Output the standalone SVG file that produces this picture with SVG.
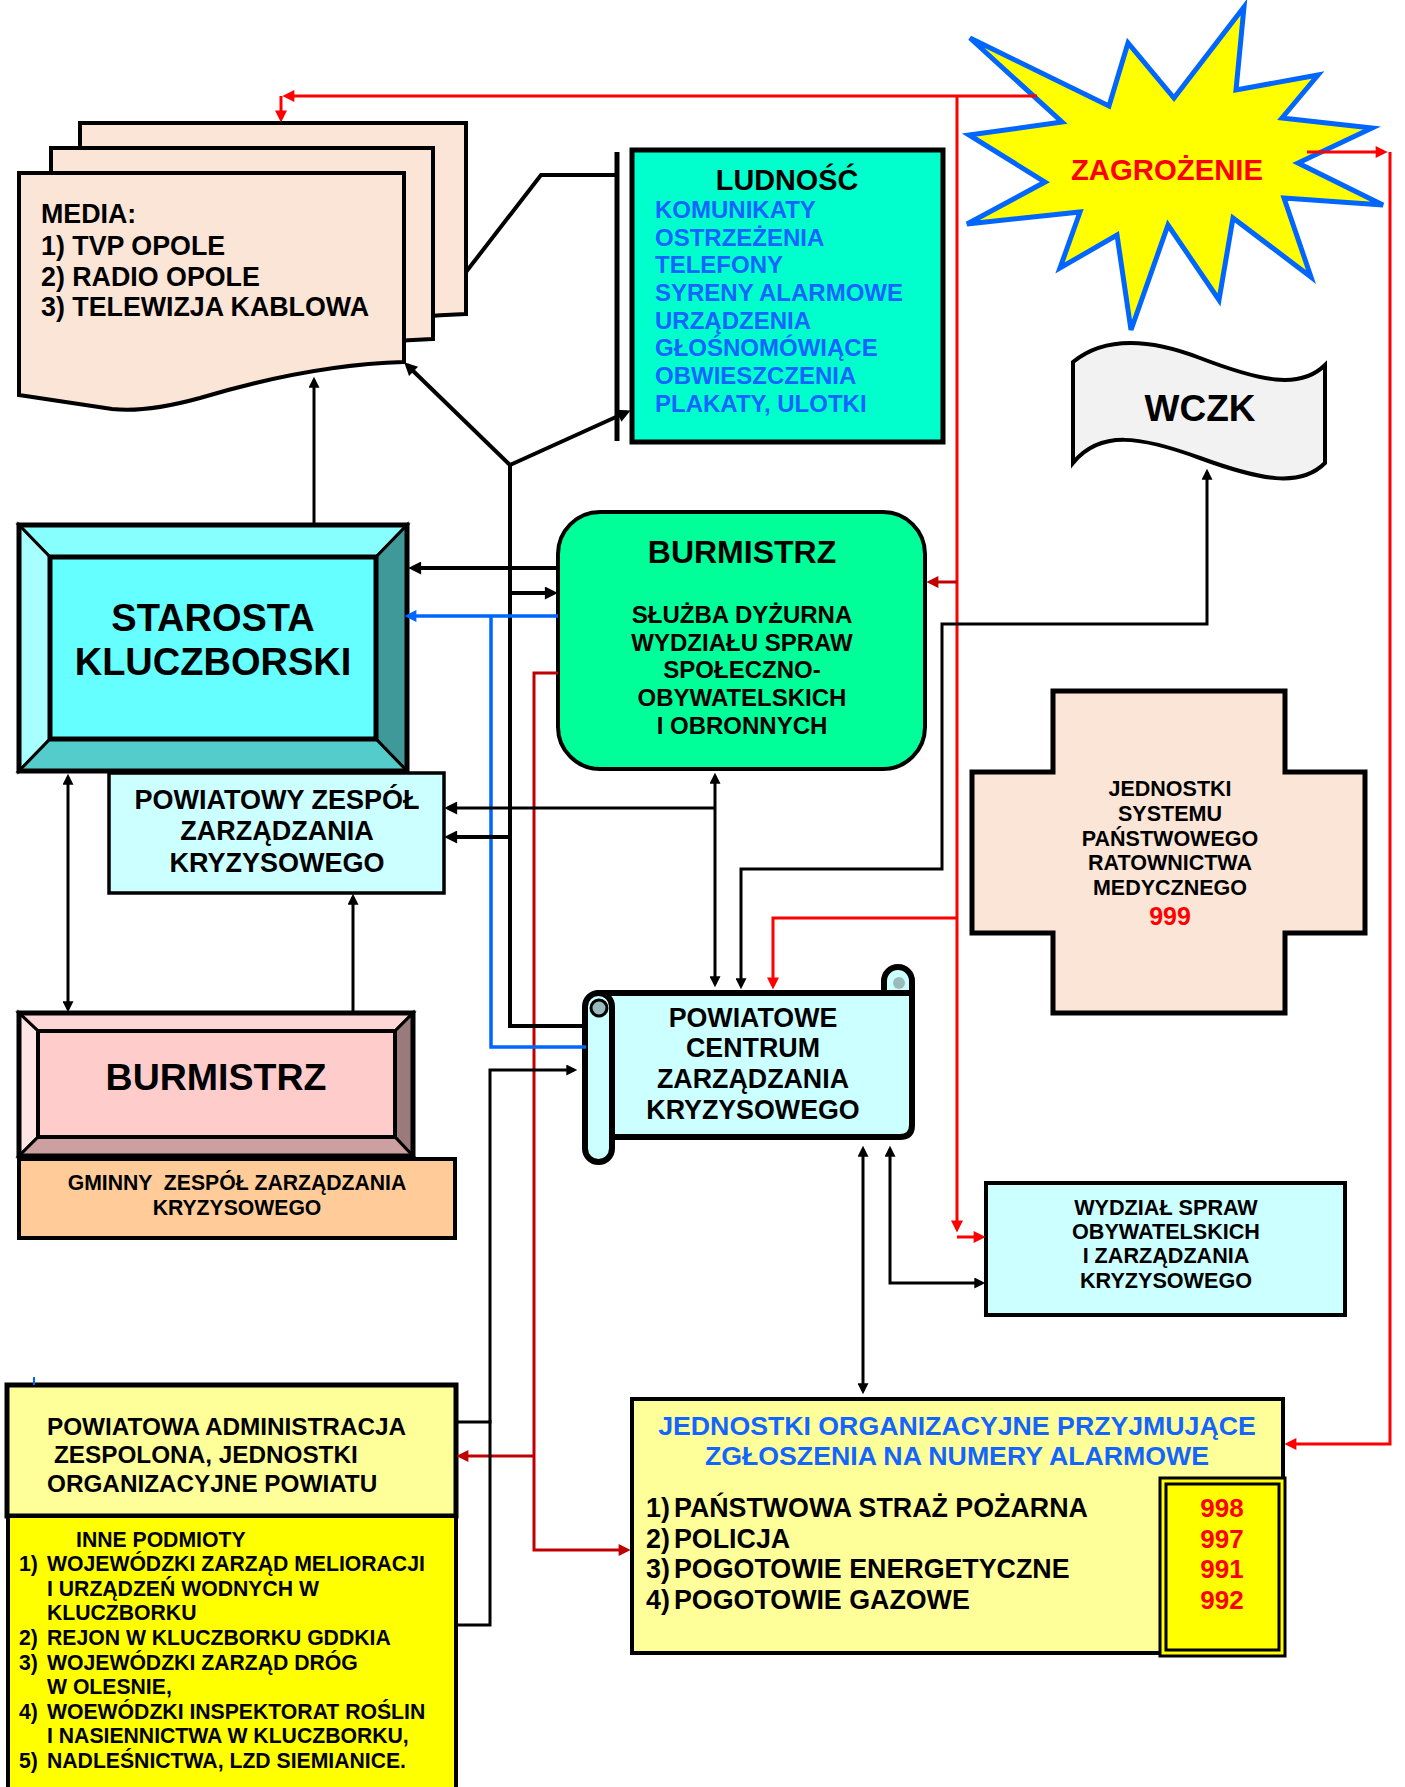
<svg xmlns="http://www.w3.org/2000/svg" width="1405" height="1787" viewBox="0 0 1405 1787">
<style>
text{font-family:"Liberation Sans",Arial,sans-serif;font-weight:bold;fill:#000}
.c{text-anchor:middle}
.blue{fill:#1464FF}
.red{fill:#FF0000}
.ln{fill:none;stroke:#000;stroke-width:3}
.lt{fill:none;stroke:#000;stroke-width:4}
.rd{fill:none;stroke:#FF0000;stroke-width:3}
.dr{fill:none;stroke:#C00000;stroke-width:3}
.bl{fill:none;stroke:#0066FF;stroke-width:3.5}
</style>
<defs>
<marker id="ab" viewBox="0 0 10 10" refX="7" refY="5" markerWidth="15" markerHeight="13" markerUnits="userSpaceOnUse" orient="auto-start-reverse"><path d="M0,0L10,5L0,10z" fill="#000"/></marker>
<marker id="as" viewBox="0 0 10 10" refX="7" refY="5" markerWidth="13" markerHeight="11" markerUnits="userSpaceOnUse" orient="auto-start-reverse"><path d="M0,0L10,5L0,10z" fill="#000"/></marker>
<marker id="ar" viewBox="0 0 10 10" refX="7" refY="5" markerWidth="14" markerHeight="12" markerUnits="userSpaceOnUse" orient="auto-start-reverse"><path d="M0,0L10,5L0,10z" fill="#FF0000"/></marker>
<marker id="ad" viewBox="0 0 10 10" refX="7" refY="5" markerWidth="14" markerHeight="12" markerUnits="userSpaceOnUse" orient="auto-start-reverse"><path d="M0,0L10,5L0,10z" fill="#C00000"/></marker>
<marker id="abl" viewBox="0 0 10 10" refX="7" refY="5" markerWidth="14" markerHeight="12" markerUnits="userSpaceOnUse" orient="auto-start-reverse"><path d="M0,0L10,5L0,10z" fill="#0066FF"/></marker>
</defs>
<rect width="1405" height="1787" fill="#FFFFFF"/>

<g id="media">
<path d="M80,123H466V314C390,316 330,330 270,345C230,354 200,356 180,355L80,342Z" fill="#FBE5D6" stroke="#000" stroke-width="4"/>
<path d="M51,148H433V339C360,341 300,355 240,370C200,379 170,381 150,380L51,367Z" fill="#FBE5D6" stroke="#000" stroke-width="4"/>
<path d="M19,173H404V362C330,364 260,380 200,398C160,409 130,411 112,409L19,395Z" fill="#FBE5D6" stroke="#000" stroke-width="4"/>
<text x="41" y="223" font-size="26.8">MEDIA:</text>
<text x="41" y="255" font-size="26.8">1) TVP OPOLE</text>
<text x="41" y="286" font-size="26.8">2) RADIO OPOLE</text>
<text x="41" y="316" font-size="26.8">3) TELEWIZJA KABLOWA</text>
</g>

<g id="ludnosc">
<rect x="632" y="150" width="311" height="292" fill="#00FFCC" stroke="#000" stroke-width="5"/>
<text x="787" y="190" font-size="28.8" class="c">LUDNOŚĆ</text>
<text x="655" y="218" font-size="24" class="blue">KOMUNIKATY</text>
<text x="655" y="246" font-size="24" class="blue">OSTRZEŻENIA</text>
<text x="655" y="273" font-size="24" class="blue">TELEFONY</text>
<text x="655" y="301" font-size="24" class="blue">SYRENY ALARMOWE</text>
<text x="655" y="329" font-size="24" class="blue">URZĄDZENIA</text>
<text x="655" y="356" font-size="24" class="blue">GŁOŚNOMÓWIĄCE</text>
<text x="655" y="384" font-size="24" class="blue">OBWIESZCZENIA</text>
<text x="655" y="412" font-size="24" class="blue">PLAKATY, ULOTKI</text>
</g>

<g id="zagrozenie">
<polygon points="970,38 1109,106 1128,43 1174,98 1244,7 1236,90 1318,75 1282,118 1372,128 1298,163 1383,205 1284,198 1311,277 1233,218 1219,300 1168,225 1131,330 1117,235 1060,268 1080,212 967,224 1045,182 969,135 1062,122" fill="#FFFF00" stroke="#0066FF" stroke-width="5" stroke-linejoin="miter"/>
<text x="1167" y="180" font-size="29.3" class="c red">ZAGROŻENIE</text>
</g>

<g id="wczk">
<path d="M1073,362C1100,340 1140,335 1200,358S1300,390 1325,365V463C1300,488 1260,480 1200,458S1100,430 1073,463Z" fill="#F2F2F2" stroke="#000" stroke-width="4"/>
<text x="1200" y="421" font-size="37" class="c">WCZK</text>
</g>

<g id="starosta">
<rect x="19" y="525" width="388" height="246" fill="#66FFFF"/>
<polygon points="19,525 407,525 376,557 50,557" fill="#88FFFF" stroke="#000" stroke-width="3"/>
<polygon points="19,525 50,557 50,739 19,771" fill="#A8FFFF" stroke="#000" stroke-width="3"/>
<polygon points="407,525 407,771 376,739 376,557" fill="#409999" stroke="#000" stroke-width="3"/>
<polygon points="19,771 50,739 376,739 407,771" fill="#55CCCC" stroke="#000" stroke-width="3"/>
<rect x="50" y="557" width="326" height="182" fill="#66FFFF" stroke="#000" stroke-width="5"/>
<rect x="19" y="525" width="388" height="246" fill="none" stroke="#000" stroke-width="5"/>
<text x="213" y="631" font-size="38" class="c">STAROSTA</text>
<text x="213" y="675" font-size="38" class="c">KLUCZBORSKI</text>
</g>

<g id="burmistrz-sluzba">
<rect x="558" y="512" width="367" height="257" rx="42" ry="42" fill="#00FF99" stroke="#000" stroke-width="4"/>
<text x="742" y="563" font-size="32" class="c">BURMISTRZ</text>
<text x="742" y="623" font-size="24" class="c">SŁUŻBA DYŻURNA</text>
<text x="742" y="651" font-size="24" class="c">WYDZIAŁU SPRAW</text>
<text x="742" y="678" font-size="24" class="c">SPOŁECZNO-</text>
<text x="742" y="706" font-size="24" class="c">OBYWATELSKICH</text>
<text x="742" y="734" font-size="24" class="c">I OBRONNYCH</text>
</g>

<g id="pzzk">
<rect x="109" y="773" width="335" height="120" fill="#CCFFFF" stroke="#000" stroke-width="3.5"/>
<text x="277" y="809" font-size="27" class="c">POWIATOWY ZESPÓŁ</text>
<text x="277" y="840" font-size="27" class="c">ZARZĄDZANIA</text>
<text x="277" y="872" font-size="27" class="c">KRYZYSOWEGO</text>
</g>

<g id="prm">
<polygon points="1053,691 1285,691 1285,772 1365,772 1365,933 1285,933 1285,1013 1053,1013 1053,933 972,933 972,772 1053,772" fill="#FBE5D6" stroke="#000" stroke-width="5"/>
<text x="1170" y="796" font-size="21.5" class="c">JEDNOSTKI</text>
<text x="1170" y="821" font-size="21.5" class="c">SYSTEMU</text>
<text x="1170" y="846" font-size="21.5" class="c">PAŃSTWOWEGO</text>
<text x="1170" y="870" font-size="21.5" class="c">RATOWNICTWA</text>
<text x="1170" y="895" font-size="21.5" class="c">MEDYCZNEGO</text>
<text x="1170" y="925" font-size="25" class="c red">999</text>
</g>

<g id="burmistrz-gmina">
<rect x="19" y="1013" width="394" height="143" fill="#FFCCCC"/>
<polygon points="19,1013 413,1013 395,1031 38,1031" fill="#FFD6D6" stroke="#000" stroke-width="3"/>
<polygon points="19,1013 38,1031 38,1137 19,1156" fill="#FFE4E4" stroke="#000" stroke-width="3"/>
<polygon points="413,1013 413,1156 395,1137 395,1031" fill="#9A7A7A" stroke="#000" stroke-width="3"/>
<polygon points="19,1156 38,1137 395,1137 413,1156" fill="#CCA0A0" stroke="#000" stroke-width="3"/>
<rect x="38" y="1031" width="357" height="106" fill="#FFCCCC" stroke="#000" stroke-width="4"/>
<rect x="19" y="1013" width="394" height="143" fill="none" stroke="#000" stroke-width="5"/>
<text x="216" y="1090" font-size="37.5" class="c">BURMISTRZ</text>
</g>

<g id="gzzk">
<rect x="19" y="1159" width="436" height="79" fill="#FFCC99" stroke="#000" stroke-width="4"/>
<text x="237" y="1190" font-size="21.2" class="c" xml:space="preserve">GMINNY  ZESPÓŁ ZARZĄDZANIA</text>
<text x="237" y="1215" font-size="21.2" class="c">KRYZYSOWEGO</text>
</g>

<g id="pczk">
<path d="M884,993V981A14,14 0 0 1 912,981V1000" fill="#CCFFFF" stroke="#000" stroke-width="6"/>
<circle cx="899" cy="983" r="6" fill="#99BBBB"/>
<path d="M598,993H912V1125Q912,1137 900,1137H605Z" fill="#CCFFFF" stroke="#000" stroke-width="6" stroke-linejoin="round"/>
<rect x="585" y="993" width="27" height="169" rx="13.5" ry="13.5" fill="#CCFFFF" stroke="#000" stroke-width="6"/>
<circle cx="599" cy="1008" r="8" fill="#99BBBB" stroke="#000" stroke-width="3"/>
<text x="753" y="1027" font-size="26.8" class="c">POWIATOWE</text>
<text x="753" y="1057" font-size="26.8" class="c">CENTRUM</text>
<text x="753" y="1088" font-size="26.8" class="c">ZARZĄDZANIA</text>
<text x="753" y="1119" font-size="26.8" class="c">KRYZYSOWEGO</text>
</g>

<g id="wydzial">
<rect x="986" y="1183" width="359" height="132" fill="#CCFFFF" stroke="#000" stroke-width="4"/>
<text x="1166" y="1215" font-size="21.6" class="c">WYDZIAŁ SPRAW</text>
<text x="1166" y="1239" font-size="21.6" class="c">OBYWATELSKICH</text>
<text x="1166" y="1263" font-size="21.6" class="c">I ZARZĄDZANIA</text>
<text x="1166" y="1288" font-size="21.6" class="c">KRYZYSOWEGO</text>
</g>

<g id="administracja">
<rect x="7" y="1385" width="449" height="131" fill="#FFFF99" stroke="#000" stroke-width="5"/>
<text x="47" y="1435" font-size="24.3">POWIATOWA ADMINISTRACJA</text>
<text x="54" y="1463" font-size="24.3">ZESPOLONA, JEDNOSTKI</text>
<text x="47" y="1492" font-size="24.3">ORGANIZACYJNE POWIATU</text>
</g>

<g id="inne">
<rect x="8" y="1516" width="448" height="280" fill="#FFFF00" stroke="#000" stroke-width="4"/>
<text x="76" y="1547" font-size="21.2">INNE PODMIOTY</text>
<text x="19" y="1571" font-size="21.2">1)</text><text x="47" y="1571" font-size="21.2">WOJEWÓDZKI ZARZĄD MELIORACJI</text>
<text x="47" y="1596" font-size="21.2">I URZĄDZEŃ WODNYCH W</text>
<text x="47" y="1620" font-size="21.2">KLUCZBORKU</text>
<text x="19" y="1645" font-size="21.2">2)</text><text x="47" y="1645" font-size="21.2">REJON W KLUCZBORKU GDDKIA</text>
<text x="19" y="1670" font-size="21.2">3)</text><text x="47" y="1670" font-size="21.2">WOJEWÓDZKI ZARZĄD DRÓG</text>
<text x="47" y="1694" font-size="21.2">W OLESNIE,</text>
<text x="19" y="1719" font-size="21.2">4)</text><text x="47" y="1719" font-size="21.2">WOEWÓDZKI INSPEKTORAT ROŚLIN</text>
<text x="47" y="1743" font-size="21.2">I NASIENNICTWA W KLUCZBORKU,</text>
<text x="19" y="1768" font-size="21.2">5)</text><text x="47" y="1768" font-size="21.2">NADLEŚNICTWA, LZD SIEMIANICE.</text>
</g>

<g id="numery-alarmowe">
<rect x="632" y="1399" width="651" height="254" fill="#FFFF99" stroke="#000" stroke-width="4"/>
<text x="957" y="1435" font-size="26.7" class="c blue">JEDNOSTKI ORGANIZACYJNE PRZYJMUJĄCE</text>
<text x="957" y="1465" font-size="26.7" class="c blue">ZGŁOSZENIA NA NUMERY ALARMOWE</text>
<rect x="1160" y="1478" width="125" height="178" fill="#FFFF00" stroke="#000" stroke-width="3"/>
<rect x="1166" y="1484" width="113" height="166" fill="none" stroke="#000" stroke-width="3"/>
<text x="646" y="1517" font-size="26.8">1)</text><text x="674" y="1517" font-size="26.8">PAŃSTWOWA STRAŻ POŻARNA</text>
<text x="646" y="1548" font-size="26.8">2)</text><text x="674" y="1548" font-size="26.8">POLICJA</text>
<text x="646" y="1578" font-size="26.8">3)</text><text x="674" y="1578" font-size="26.8">POGOTOWIE ENERGETYCZNE</text>
<text x="646" y="1609" font-size="26.8">4)</text><text x="674" y="1609" font-size="26.8">POGOTOWIE GAZOWE</text>
<text x="1222" y="1517" font-size="26" class="c red">998</text>
<text x="1222" y="1548" font-size="26" class="c red">997</text>
<text x="1222" y="1578" font-size="26" class="c red">991</text>
<text x="1222" y="1609" font-size="26" class="c red">992</text>
</g>

<g id="connectors">
<path class="rd" d="M1037,96H286" marker-end="url(#ar)"/>
<path class="rd" d="M281,96V119" marker-end="url(#ar)"/>
<path class="rd" d="M957,96V1229" marker-end="url(#ar)"/>
<path class="rd" d="M957,1237H982" marker-end="url(#ar)"/>
<path class="dr" d="M957,582H930" marker-end="url(#ad)"/>
<path class="rd" d="M957,918H773V986" marker-end="url(#ar)"/>
<path class="rd" d="M1307,152H1384" marker-end="url(#ar)"/>
<path class="rd" d="M1390,152V1444H1288" marker-end="url(#ar)"/>
<path class="dr" d="M558,673H534V1550H627" marker-end="url(#ad)"/>
<path class="dr" d="M534,1456H460" marker-end="url(#ad)"/>
<path class="lt" d="M617,175H541L466,272"/>
<path d="M617,152V441" stroke="#000" stroke-width="5"/>
<path class="lt" d="M510,465L407,365" marker-end="url(#ab)"/>
<path class="lt" d="M510,465L627,412" marker-end="url(#ab)"/>
<path class="lt" d="M510,465V1026H586"/>
<path class="lt" d="M558,568H412" marker-end="url(#ab)"/>
<path class="lt" d="M510,593H554" marker-end="url(#ab)"/>
<path class="bl" d="M558,616H408" marker-end="url(#abl)"/>
<path class="bl" d="M491,616V1047H586"/>
<path class="lt" d="M510,837H448" marker-end="url(#ab)"/>
<path class="ln" d="M715,808H448" marker-end="url(#ab)"/>
<path class="ln" d="M715,776V984" marker-start="url(#as)" marker-end="url(#as)"/>
<path class="ln" d="M741,986V869H942V624H1207V472" marker-start="url(#as)" marker-end="url(#as)"/>
<path class="ln" d="M314,526V380" marker-end="url(#as)"/>
<path class="ln" d="M68,777V1009" marker-start="url(#as)" marker-end="url(#as)"/>
<path class="ln" d="M353,1013V897" marker-end="url(#as)"/>
<path class="ln" d="M456,1422H490V1070H574" marker-end="url(#as)"/>
<path class="ln" d="M456,1625H490V1420"/>
<path class="ln" d="M863,1149V1391" marker-start="url(#as)" marker-end="url(#as)"/>
<path class="ln" d="M890,1149V1283H982" marker-start="url(#as)" marker-end="url(#as)"/>
<path d="M34,1377V1385" stroke="#0066FF" stroke-width="2"/>
</g>
</svg>
